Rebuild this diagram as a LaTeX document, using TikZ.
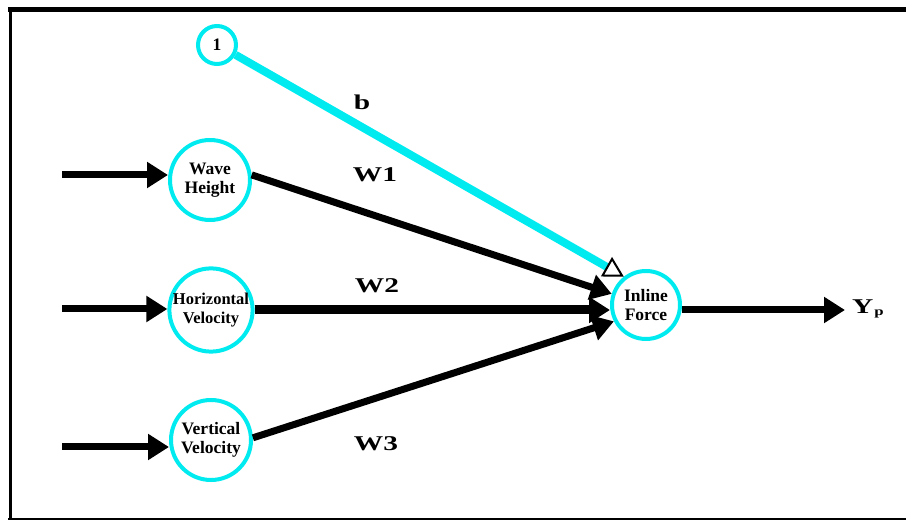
\documentclass[tikz,border=0pt]{standalone}
\usepackage{fontspec}
\setmainfont{Liberation Serif}
\newfontfamily\wfont[FakeStretch=1.4]{Liberation Serif}
\usetikzlibrary{arrows.meta,positioning}
\definecolor{ringcyan}{RGB}{0,235,240}

\begin{document}
\begin{tikzpicture}[
    x=1pt, y=1pt,
    neuron/.style={circle, draw=ringcyan, line width=4pt, inner sep=0pt, align=center, font=\fontsize{17.5}{19}\selectfont\bfseries},
    arrow/.style={line width=7pt, -{Triangle[length=21pt,width=25pt]}},
    weight/.style={font=\wfont\fontsize{21}{23}\selectfont\bfseries},
    bias/.style={ringcyan, line width=8pt, -{Triangle[open,length=20pt,width=22pt,color=black,line width=2pt]}}
]
\useasboundingbox (0,0) rectangle (906,520);

% Frame
\draw[line width=5pt] (8,510.5) -- (906,510.5);
\draw[line width=3pt] (10,512) -- (10,0);
\draw[line width=2pt] (8,1) -- (906,1);

% Input layer
\node[neuron, minimum size=38pt] (one) at (217,475) {1};
\node[neuron, minimum size=80pt] (wave) at (210,340) {Wave\\Height};
\node[neuron, minimum size=82pt, font=\fontsize{16.5}{19}\selectfont\bfseries] (horiz) at (211,210) {Horizontal\\Velocity};
\node[neuron, minimum size=80pt] (vert) at (211,80) {Vertical\\Velocity};

% Output neuron
\node[neuron, minimum size=68pt] (inline) at (646,215) {Inline\\Force};

% Inputs and output ends
\coordinate (in1) at (62,345);
\coordinate (in2) at (62,211);
\coordinate (in3) at (62,73);
\coordinate (out) at (845,210);

% Labels
\node[weight] (lb) at (362,418) {b};
\node[weight] (lw1) at (375,345) {W1};
\node[weight] (lw2) at (377,234) {W2};
\node[weight] (lw3) at (376,76) {W3};
\node[weight] (ly) at (868,211) {Y\kern1pt\raisebox{-2pt}{\fontsize{12}{12}\selectfont p}};

% Arrows
\draw[arrow] (in1) -- (in1 -| wave.west);
\draw[arrow] (in2) -- (in2 -| horiz.west);
\draw[arrow] (in3) -- (in3 -| vert.west);
\draw[arrow] (wave.7) -- (inline.162);
\draw[arrow, line width=9pt] (horiz.east) -- (horiz.east -| inline.west);
\draw[arrow] (vert.3) -- (inline.207);
\draw[bias] (one.-28) -- (inline.128);
\draw[arrow] (inline.east |- out) -- (out);

\end{tikzpicture}
\end{document}
